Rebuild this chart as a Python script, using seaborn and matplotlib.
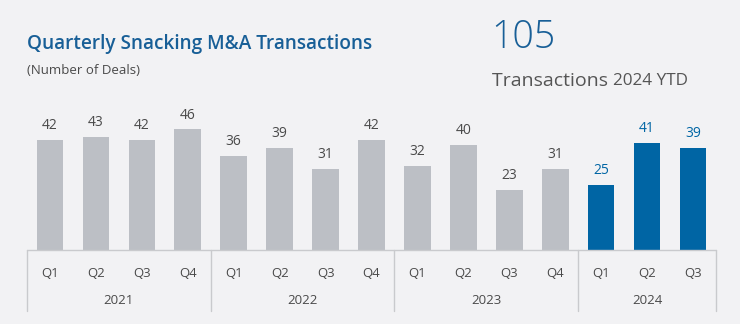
import matplotlib
matplotlib.use("Agg")
import matplotlib.pyplot as plt
import matplotlib.transforms as mtransforms
import pandas as pd
import seaborn as sns

# Quarterly deal counts
years = ["2021", "2022", "2023", "2024"]
quarters = ["Q1", "Q2", "Q3", "Q4", "Q1", "Q2", "Q3", "Q4",
            "Q1", "Q2", "Q3", "Q4", "Q1", "Q2", "Q3"]
quarter_years = ["2021"] * 4 + ["2022"] * 4 + ["2023"] * 4 + ["2024"] * 3
deals = [42, 43, 42, 46, 36, 39, 31, 42, 32, 40, 23, 31, 25, 41, 39]
ytd_total = 105
ytd_year = "2024"

BG = "#f2f2f4"
GREY_BAR = "#bcbfc5"
BLUE_BAR = "#0065a4"
TITLE_BLUE = "#185f97"
TEXT = "#4a4a4a"
RULE = "#c9cacd"

sns.set_theme(style="white")
plt.rcParams["font.family"] = ["Open Sans", "DejaVu Sans"]

df = pd.DataFrame({
    "key": [f"{y} {q}" for y, q in zip(quarter_years, quarters)],
    "quarter": quarters,
    "year": quarter_years,
    "deals": deals,
})
df["period"] = ["current" if y == ytd_year else "prior" for y in df["year"]]

W, H = 740, 324
fig = plt.figure(figsize=(W / 100, H / 100), dpi=100, facecolor=BG)
ax = fig.add_axes([27 / W, 74 / H, 689 / W, 150 / H], facecolor=BG)

sns.barplot(data=df, x="key", y="deals", hue="period", order=list(df["key"]),
            hue_order=["prior", "current"],
            palette={"prior": GREY_BAR, "current": BLUE_BAR},
            saturation=1, linewidth=0, edgecolor="none",
            width=0.58, dodge=False, legend=False, ax=ax)

ax.set_xlim(-0.5, len(df) - 0.5)
ax.set_ylim(0, 150 / 2.62)

for cont, col in zip(ax.containers, [TEXT, BLUE_BAR]):
    ax.bar_label(cont, padding=5, fontsize=10, color=col)

for s in ax.spines.values():
    s.set_visible(False)
ax.set_yticks([])
ax.set_xticks(range(len(df)))
ax.set_xticklabels(df["quarter"], fontsize=9.5, color=TEXT)
ax.tick_params(axis="x", length=0, pad=12)
ax.set_xlabel("")
ax.set_ylabel("")

trans = mtransforms.blended_transform_factory(ax.transData, ax.transAxes)
ax.plot([-0.5, len(df) - 0.5], [0, 0], transform=trans, color=RULE,
        lw=1, clip_on=False)
bounds = [-0.5]
for y in years:
    bounds.append(bounds[-1] + quarter_years.count(y))
for b in bounds:
    ax.plot([b, b], [0, -61 / 150], transform=trans, color=RULE, lw=1,
            clip_on=False)
for i, y in enumerate(years):
    mid = (bounds[i] + bounds[i + 1]) / 2
    ax.text(mid, -51 / 150, y, transform=trans, ha="center", va="center",
            fontsize=9.5, color=TEXT)

fig.text(27 / W, 1 - 44 / H, "Quarterly Snacking M&A Transactions",
         fontsize=13.7, fontweight="semibold", color=TITLE_BLUE,
         ha="left", va="center")
fig.text(27 / W, 1 - 70 / H, "(Number of Deals)", fontsize=9.5,
         color=TEXT, ha="left", va="center")

fig.text(491 / W, 1 - 38 / H, str(ytd_total), fontsize=27,
         fontweight="light", color=TITLE_BLUE, ha="left", va="center")
t1 = fig.text(492 / W, 1 - 81 / H, "Transactions ", fontsize=14,
              color="#555555", ha="left", va="center")
fig.canvas.draw()
bb = t1.get_window_extent()
fig.text(bb.x1 / W, 1 - 81 / H, f"{ytd_year} YTD", fontsize=12.3,
         color="#555555", ha="left", va="center")

fig.savefig("out.png", dpi=100, facecolor=BG)
